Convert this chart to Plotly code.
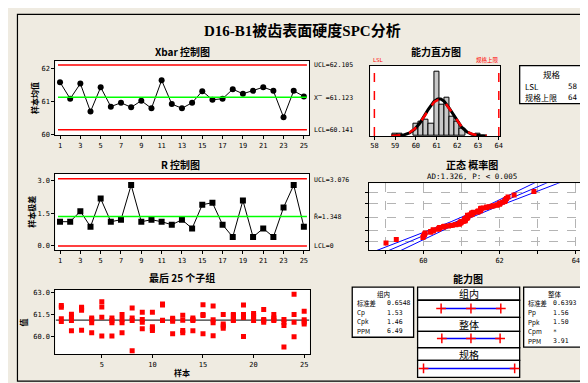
import numpy as np
import plotly.graph_objects as go

W, H = 588, 383

# ---------------- data ----------------
subgroups = list(range(1, 26))
xbar = [61.58, 61.08, 61.54, 60.69, 61.43, 60.84, 60.96, 60.82, 61.02, 60.79,
        61.64, 60.92, 60.79, 60.96, 61.31, 61.05, 61.08, 61.37, 61.23, 61.32,
        61.43, 61.32, 60.52, 61.32, 61.15]
ranges = [1.11, 1.11, 1.59, 0.88, 2.17, 1.11, 1.20, 2.79, 1.11, 1.20,
          1.11, 0.97, 1.20, 0.80, 1.89, 1.98, 0.97, 0.41, 2.08, 0.41,
          0.80, 0.41, 1.76, 2.79, 0.88]
obs = [
    [62.13, 62.00, 61.22, 61.02], [61.52, 61.32, 61.10, 60.40], [62.00, 61.93, 61.80, 60.43],
    [61.27, 61.16, 60.94, 60.26], [62.38, 62.02, 61.32, 60.03], [61.27, 61.09, 60.94, 60.03],
    [61.50, 61.16, 60.94, 60.26], [61.95, 61.27, 61.09, 59.02], [61.66, 61.16, 60.98, 60.53],
    [61.66, 60.66, 60.53, 60.42], [62.22, 62.15, 61.12, 61.10], [61.25, 61.16, 61.05, 60.19],
    [61.45, 61.12, 60.42, 60.26], [61.27, 61.16, 61.09, 60.39], [62.18, 61.50, 61.43, 60.19],
    [62.08, 61.15, 60.95, 60.05], [61.50, 60.85, 60.72, 60.56], [61.50, 61.43, 61.16, 61.09],
    [62.15, 61.50, 61.30, 60.00], [61.57, 61.43, 61.27, 61.09], [61.84, 61.16, 61.09, 60.98],
    [61.50, 61.27, 61.16, 61.09], [61.16, 60.98, 60.76, 59.29], [62.90, 61.50, 60.98, 59.99],
    [61.73, 61.15, 61.00, 60.85],
]
hist_centers = [59.0, 59.25, 60.0, 60.25, 60.5, 60.75, 61.0, 61.25, 61.5, 61.75, 62.0, 62.25, 63.0]
hist_counts = [1, 1, 5, 6, 7, 5, 27, 13, 16, 8, 6, 3, 1]
hist_bin_width = 0.25

mean_x, ucl_x, lcl_x = 61.123, 62.105, 60.141
r_bar, ucl_r, lcl_r = 1.348, 3.076, 0.0
lsl, usl = 58, 64
sd_within, sd_overall = 0.6548, 0.6393
within_stats = [("标准差", "0.6548"), ("Cp", "1.53"), ("Cpk", "1.46"), ("PPM", "6.49")]
overall_stats = [("标准差", "0.6393"), ("Pp", "1.56"), ("Ppk", "1.50"), ("Cpm", "*"), ("PPM", "3.91")]
spec_rows = [("LSL", "58"), ("规格上限", "64")]
prob_text = "AD:1.326, P: < 0.005"
prob_grid_pct = [1, 10, 50, 90, 99]

# ---------------- helpers ----------------
def px(x):
    return x / W

def py(y):
    return 1 - y / H

def dom_x(a, b):
    return [px(a), px(b)]

def dom_y(top, bottom):
    return [py(bottom), py(top)]

def inv_norm(p):
    a = [-3.969683028665376e+01, 2.209460984245205e+02, -2.759285104469687e+02,
         1.383577518672690e+02, -3.066479806614716e+01, 2.506628277459239e+00]
    b = [-5.447609879822406e+01, 1.615858368580409e+02, -1.556989798598866e+02,
         6.680131188771972e+01, -1.328068155288572e+01]
    c = [-7.784894002430293e-03, -3.223964580411365e-01, -2.400758277161838e+00,
         -2.549732539343734e+00, 4.374664141464968e+00, 2.938163982698783e+00]
    d = [7.784695709041462e-03, 3.224671290700398e-01, 2.445134137142996e+00,
         3.754408661907416e+00]
    plow = 0.02425
    if p < plow:
        q = np.sqrt(-2 * np.log(p))
        return (((((c[0]*q+c[1])*q+c[2])*q+c[3])*q+c[4])*q+c[5]) / ((((d[0]*q+d[1])*q+d[2])*q+d[3])*q+1)
    if p > 1 - plow:
        q = np.sqrt(-2 * np.log(1 - p))
        return -(((((c[0]*q+c[1])*q+c[2])*q+c[3])*q+c[4])*q+c[5]) / ((((d[0]*q+d[1])*q+d[2])*q+d[3])*q+1)
    q = p - 0.5
    r = q * q
    return (((((a[0]*r+a[1])*r+a[2])*r+a[3])*r+a[4])*r+a[5])*q / (((((b[0]*r+b[1])*r+b[2])*r+b[3])*r+b[4])*r+1)

BG = "#EFEBE1"
MONO = "DejaVu Sans Mono, Noto Sans CJK SC"
CJK = "Noto Sans CJK SC"
SERIF = "Liberation Serif, Noto Sans CJK SC"

fig = go.Figure()
ann = []
shapes = []

def text(x, y, s, size=7, font=MONO, color="black", xanchor="left", bold=False):
    if bold:
        s = "<b>" + s + "</b>"
    ann.append(dict(x=px(x), y=py(y), xref="paper", yref="paper", text=s, showarrow=False,
                    xanchor=xanchor, yanchor="middle", font=dict(size=size, family=font, color=color)))

def rect(x0, y0, x1, y1, color="black", width=1, fill=None):
    shapes.append(dict(type="rect", xref="paper", yref="paper", x0=px(x0), x1=px(x1),
                       y0=py(y1), y1=py(y0), line=dict(color=color, width=width),
                       fillcolor=fill if fill else "rgba(0,0,0,0)", layer="below" if fill else "above"))

def axis_common(**kw):
    d = dict(showline=True, linecolor="black", linewidth=1, mirror=True, ticks="outside",
             ticklen=3, tickcolor="black", showgrid=False, zeroline=False,
             tickfont=dict(size=7, family=MONO, color="black"), fixedrange=True)
    d.update(kw)
    return d

# ---------------- Xbar chart ----------------
fig.add_trace(go.Scatter(x=subgroups, y=xbar, mode="lines+markers", xaxis="x", yaxis="y",
                         line=dict(color="black", width=1), marker=dict(color="black", size=6)))
for val, col in [(ucl_x, "red"), (lcl_x, "red"), (mean_x, "#00FF00")]:
    fig.add_trace(go.Scatter(x=[0.8, 25.3], y=[val, val], mode="lines", xaxis="x", yaxis="y",
                             line=dict(color=col, width=1.5)))
# ---------------- R chart ----------------
fig.add_trace(go.Scatter(x=subgroups, y=ranges, mode="lines+markers", xaxis="x2", yaxis="y2",
                         line=dict(color="black", width=1), marker=dict(color="black", size=6, symbol="square")))
for val, col in [(ucl_r, "red"), (lcl_r, "red"), (r_bar, "#00FF00")]:
    fig.add_trace(go.Scatter(x=[0.8, 25.3], y=[val, val], mode="lines", xaxis="x2", yaxis="y2",
                             line=dict(color=col, width=1.5)))
# ---------------- last 25 subgroups ----------------
sx, sy = [], []
for i, g in enumerate(obs):
    for v in g:
        sx.append(subgroups[i]); sy.append(v)
fig.add_trace(go.Scatter(x=[0.45, 25.5], y=[mean_x, mean_x], mode="lines", xaxis="x3", yaxis="y3",
                         line=dict(color="#333333", width=1.2)))
fig.add_trace(go.Scatter(x=sx, y=sy, mode="markers", xaxis="x3", yaxis="y3",
                         marker=dict(color="red", size=5, symbol="square")))
# ---------------- histogram ----------------
fig.add_trace(go.Bar(x=hist_centers, y=hist_counts, width=hist_bin_width, xaxis="x4", yaxis="y4",
                     marker=dict(color="#C8C8C8", line=dict(color="black", width=1))))
N = len(sx)
cx = np.linspace(mean_x - 3.6 * sd_overall, mean_x + 3.6 * sd_overall, 200)
for sd, col, dash, wd in [(sd_overall, "black", "solid", 3), (sd_within, "red", "dash", 2.5)]:
    cy = N * hist_bin_width / (sd * np.sqrt(2 * np.pi)) * np.exp(-0.5 * ((cx - mean_x) / sd) ** 2)
    fig.add_trace(go.Scatter(x=cx, y=cy, mode="lines", xaxis="x4", yaxis="y4",
                             line=dict(color=col, width=wd, dash=dash)))
for v in [lsl, usl]:
    fig.add_trace(go.Scatter(x=[v, v], y=[0, 40], mode="lines", xaxis="x4", yaxis="y4",
                             line=dict(color="red", width=1.5, dash="dash")))
# ---------------- normal probability plot ----------------
data_sorted = np.sort(np.array(sy))
n = len(data_sorted)
zs = np.array([inv_norm((i + 1 - 0.3) / (n + 0.4)) for i in range(n)])
m_all, s_all = data_sorted.mean(), data_sorted.std(ddof=1)
zl = np.linspace(-3.5, 3.5, 100)
fit = m_all + s_all * zl
half = 1.96 * s_all * np.sqrt(1 / n + zl ** 2 / (2 * (n - 1)))
for arr in [fit, fit - half, fit + half]:
    fig.add_trace(go.Scatter(x=arr, y=zl, mode="lines", xaxis="x5", yaxis="y5",
                             line=dict(color="blue", width=1)))
fig.add_trace(go.Scatter(x=data_sorted, y=zs, mode="markers", xaxis="x5", yaxis="y5",
                         marker=dict(color="red", size=5, symbol="square")))
# ---------------- capability plot ----------------
rows_y = [0, 1, 2]
intervals = [
    [mean_x - 3 * sd_within, mean_x, mean_x + 3 * sd_within],
    [mean_x - 3 * sd_overall, mean_x, mean_x + 3 * sd_overall],
    [lsl, usl],
]
for ry, iv in zip(rows_y, intervals):
    fig.add_trace(go.Scatter(x=[iv[0], iv[-1]], y=[ry, ry], mode="lines", xaxis="x6", yaxis="y6",
                             line=dict(color="blue", width=1.5)))
    fig.add_trace(go.Scatter(x=iv, y=[ry] * len(iv), mode="markers", xaxis="x6", yaxis="y6",
                             marker=dict(symbol="cross-thin", size=7, color="red",
                                         line=dict(color="red", width=1.5))))

# ---------------- layout axes ----------------
tick_odd = list(range(1, 26, 2))
layout_axes = dict(
    xaxis=axis_common(domain=dom_x(47.7, 303), range=[0.55, 25.55], tickvals=tick_odd, anchor="y"),
    yaxis=axis_common(domain=dom_y(52.7, 127.7), range=[59.97, 62.22], tickvals=[60, 61, 62], anchor="x"),
    xaxis2=axis_common(domain=dom_x(47.7, 303), range=[0.55, 25.55], tickvals=tick_odd, anchor="y2"),
    yaxis2=axis_common(domain=dom_y(166.7, 244), range=[-0.21, 3.30], tickvals=[0, 1.5, 3.0],
                       ticktext=["0.0", "1.5", "3.0"], anchor="x2"),
    xaxis3=axis_common(domain=dom_x(47.7, 303.3), range=[0.42, 25.55], tickvals=[5, 10, 15, 20, 25], anchor="y3"),
    yaxis3=axis_common(domain=dom_y(283.7, 349), range=[58.78, 63.2], tickvals=[60, 61.5, 63],
                       ticktext=["60.0", "61.5", "63.0"], anchor="x3"),
    xaxis4=axis_common(domain=dom_x(364.3, 495), range=[57.81, 64.08], tickvals=list(range(58, 65)), anchor="y4"),
    yaxis4=axis_common(domain=dom_y(57.3, 128.3), range=[0, 29.5], showticklabels=False, ticks="", anchor="x4"),
    xaxis5=axis_common(domain=dom_x(362.7, 575), range=[58.57, 64.11], tickvals=[59, 60, 61, 62, 63, 64],
                       ticktext=["", "60", "", "62", "", "64"], showgrid=True, gridcolor="#B4B4B4",
                       griddash="dash", gridwidth=1, anchor="y5"),
    yaxis5=axis_common(domain=dom_y(176, 244), range=[-3.16, 3.25],
                       tickvals=[inv_norm(p / 100) for p in prob_grid_pct], showticklabels=False,
                       showgrid=True, gridcolor="#B4B4B4", griddash="dash", gridwidth=1, anchor="x5"),
    xaxis6=dict(domain=dom_x(411.7, 514.3), range=[57.61, 64.33], visible=False, anchor="y6", fixedrange=True),
    yaxis6=dict(domain=dom_y(281, 372.3), range=[2.30, -0.716], visible=False, anchor="x6", fixedrange=True),
)

# ---------------- texts ----------------
text(296, 22, "D16-B1被齿表面硬度SPC分析", size=15, font=SERIF, xanchor="center", bold=True)
text(175, 43, "Xbar 控制图", size=10, font=CJK, xanchor="center", bold=True)
text(430, 43, "能力直方图", size=10, font=CJK, xanchor="center", bold=True)
text(173, 157, "R 控制图", size=10, font=CJK, xanchor="center", bold=True)
text(466, 157, "正态 概率图", size=10, font=CJK, xanchor="center", bold=True)
text(466, 169.5, prob_text, size=7.5, font=MONO, xanchor="center")
text(175, 271.5, "最后 25 个子组", size=10, font=CJK, xanchor="center", bold=True)
text(462, 272, "能力图", size=10, font=CJK, xanchor="center", bold=True)
text(175, 367, "样本", size=8, font=CJK, xanchor="center", bold=True)

for x, y, s in [(26, 90, "样本均值"), (24, 205, "样本极差"), (16, 317, "值")]:
    ann.append(dict(x=px(x), y=py(y), xref="paper", yref="paper", text="<b>" + s + "</b>", showarrow=False,
                    textangle=-90, xanchor="center", yanchor="middle",
                    font=dict(size=8, family=CJK, color="black")))

# control limit labels
text(306, 57, f"UCL={ucl_x:.3f}", size=6.5)
text(306, 89.5, f"X\u033f ={mean_x:.3f}", size=6.5)
text(306, 122, f"LCL={lcl_x:.3f}", size=6.5)
text(306, 173, f"UCL={ucl_r:.3f}", size=6.5)
text(306, 210, f"R\u0304={r_bar:.3f}", size=6.5)
text(306, 239, f"LCL={lcl_r:.0f}", size=6.5)

# histogram LSL / USL labels
text(365, 51.5, "LSL", size=5.5, color="red")
text(496, 51.5, "规格上限", size=5.5, font=CJK, color="red", xanchor="right")

# spec box
rect(514.3, 57.3, 579.3, 95.7, width=1.3, fill="white")
text(546.7, 66, "规格", size=8.5, font=CJK, xanchor="center")
for i, (k, v) in enumerate(spec_rows):
    text(517.5, 78.5 + i * 11, k, size=8, font=CJK)
    text(575, 78.5 + i * 11, v, size=7.5, font=MONO, xanchor="right")

# within / overall stat boxes
rect(346, 281, 407.7, 331.7, width=1.3, fill="white")
text(377, 288.3, "组内", size=6.5, font=CJK, xanchor="center")
for i, (k, v) in enumerate(within_stats):
    text(348.5, 297.3 + i * 9.5, k, size=6.3, font=CJK)
    text(379, 297.3 + i * 9.5, v, size=6.5, font=MONO)
rect(518.3, 281, 580.7, 341.7, width=1.3, fill="white")
text(549.5, 288.3, "整体", size=6.5, font=CJK, xanchor="center")
for i, (k, v) in enumerate(overall_stats):
    text(520.5, 297.3 + i * 9.6, k, size=6.3, font=CJK)
    text(546, 297.3 + i * 9.6, v, size=6.5, font=MONO)

# middle capability boxes
for (t, b) in [(281, 294.3), (294.3, 311.7), (311.7, 325.7), (325.7, 342.3), (342.3, 355), (355, 372.3)]:
    rect(411.7, t, 514.3, b, width=1.3, fill="white")
for y, s in [(288, "组内"), (319, "整体"), (349, "规格")]:
    text(463, y, s, size=10, font=CJK, xanchor="center")

# plot backgrounds (white) behind axes
for (x0, y0, x1, y1) in [(47.7, 52.7, 303, 127.7), (47.7, 166.7, 303, 244), (47.7, 283.7, 303.3, 349),
                         (364.3, 57.3, 495, 128.3), (362.7, 176, 575, 244)]:
    rect(x0, y0, x1, y1, width=0, fill="white")

# outer frame
rect(9.5, 5.5, 579.5, 376, width=1.2)

fig.update_layout(width=W, height=H, margin=dict(l=0, r=0, t=0, b=0), paper_bgcolor=BG,
                  plot_bgcolor="rgba(0,0,0,0)", showlegend=False, annotations=ann, shapes=shapes,
                  bargap=0, **layout_axes)
fig.write_html("out.html")
